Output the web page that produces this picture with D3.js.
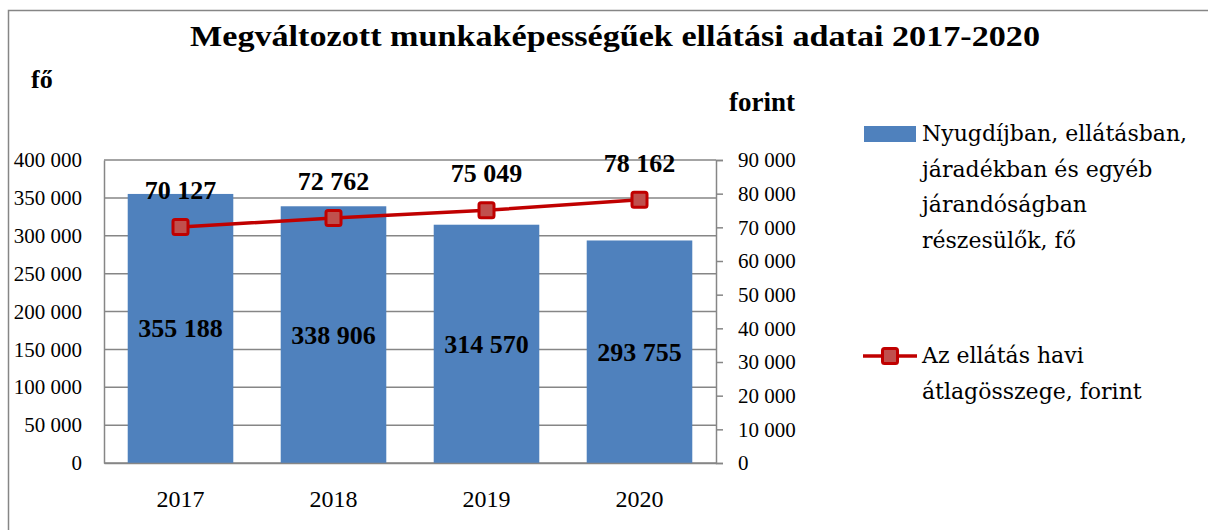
<!DOCTYPE html>
<html>
<head>
<meta charset="utf-8">
<script src="https://cdn.jsdelivr.net/npm/d3@7"></script>
<style>
  body { margin: 0; background: #ffffff; }
  svg { display: block; font-family: "Liberation Serif", "DejaVu Serif", serif; }
</style>
</head>
<body>
<svg id="chart"></svg>
<script>
// DATA
var years = ["2017", "2018", "2019", "2020"];
var recipients = [355188, 338906, 314570, 293755];   // fő (bars, left axis)
var monthlyAverage = [70127, 72762, 75049, 78162];   // forint (line, right axis)
var leftTicks = [0, 50000, 100000, 150000, 200000, 250000, 300000, 350000, 400000];
var rightTicks = [0, 10000, 20000, 30000, 40000, 50000, 60000, 70000, 80000, 90000];
var titleText = "Megváltozott munkaképességűek ellátási adatai 2017-2020";
var barLegend = ["Nyugdíjban, ellátásban,", "járadékban és egyéb", "járandóságban", "részesülők, fő"];
var lineLegend = ["Az ellátás havi", "átlagösszege, forint"];

// NEEDED VARIABLES
var width = 1208;
var height = 530;
var plot = {left: 104, right: 716, top: 160, bottom: 463};
var barColor = "#4F81BD";
var lineColor = "#C00000";
var markerFill = "#C0504D";
var gridColor = "#868686";
var serif = "'Liberation Serif', 'DejaVu Serif', serif";
var wideSerif = "'DejaVu Serif', 'Liberation Serif', serif";

var huLocale = d3.formatLocale({decimal: ",", thousands: " ", grouping: [3], currency: ["", ""]});
var numFormat = huLocale.format(",");

var svg = d3.select("#chart")
  .attr("width", width)
  .attr("height", height)
  ;

// outer chart border
svg.append("rect")
  .attr("x", 8.5)
  .attr("y", 10.5)
  .attr("width", 1300)
  .attr("height", 700)
  .attr("fill", "none")
  .attr("stroke", gridColor)
  .attr("stroke-width", 1.5)
  ;

// SCALES
var xScale = d3.scaleBand()
  .domain(years)
  .range([plot.left, plot.right])
  .paddingInner(0.31)
  .paddingOuter(0.155)
  ;

var yLeft = d3.scaleLinear()
  .domain([0, 400000])
  .range([plot.bottom, plot.top])
  ;

var yRight = d3.scaleLinear()
  .domain([0, 90000])
  .range([plot.bottom, plot.top])
  ;

// GRIDLINES
svg.append("g")
  .attr("class", "grid")
  .selectAll("line")
  .data(leftTicks)
  .join("line")
  .attr("x1", plot.left)
  .attr("x2", plot.right)
  .attr("y1", (d) => yLeft(d))
  .attr("y2", (d) => yLeft(d))
  .attr("stroke", gridColor)
  .attr("stroke-width", 1.5)
  ;

// BARS
svg.append("g")
  .attr("id", "bars")
  .selectAll("rect")
  .data(recipients)
  .join("rect")
  .attr("x", (d, i) => xScale(years[i]))
  .attr("y", (d) => yLeft(d))
  .attr("width", xScale.bandwidth())
  .attr("height", (d) => plot.bottom - yLeft(d))
  .attr("fill", barColor)
  ;

// AXES
var leftAxis = d3.axisLeft(yLeft)
  .tickValues(leftTicks)
  .tickSize(0)
  .tickPadding(22)
  .tickFormat(numFormat)
  ;

var rightAxis = d3.axisRight(yRight)
  .tickValues(rightTicks)
  .tickSize(7)
  .tickPadding(15)
  .tickFormat(numFormat)
  ;

var bottomAxis = d3.axisBottom(xScale)
  .tickSize(0)
  .tickPadding(27)
  ;

svg.append("g")
  .attr("transform", "translate(" + plot.left + ",0)")
  .call(leftAxis)
  ;

svg.append("g")
  .attr("transform", "translate(" + plot.right + ",0)")
  .call(rightAxis)
  ;

var xAxisChart = svg.append("g")
  .attr("transform", "translate(0," + plot.bottom + ")")
  .call(bottomAxis)
  ;

svg.selectAll(".domain")
  .attr("stroke", gridColor)
  .attr("stroke-width", 1.5)
  ;
svg.selectAll(".tick line")
  .attr("stroke", gridColor)
  .attr("stroke-width", 1.5)
  ;
svg.selectAll(".tick text")
  .attr("fill", "#000")
  .attr("font-family", serif)
  .attr("font-size", 21)
  ;
// year labels are a bit larger in the original
xAxisChart.selectAll(".tick text")
  .attr("font-size", 24)
  ;

// BAR LABELS
svg.append("g")
  .selectAll("text")
  .data(recipients)
  .join("text")
  .attr("x", (d, i) => xScale(years[i]) + xScale.bandwidth() / 2)
  .attr("y", (d) => (yLeft(d) + plot.bottom) / 2 + 9)
  .attr("text-anchor", "middle")
  .attr("font-weight", "bold")
  .attr("font-size", 26)
  .text((d) => numFormat(d))
  ;

// LINE
var line = d3.line()
  .x((d, i) => xScale(years[i]) + xScale.bandwidth() / 2)
  .y((d) => yRight(d))
  ;

svg.append("path")
  .datum(monthlyAverage)
  .attr("d", line)
  .attr("fill", "none")
  .attr("stroke", lineColor)
  .attr("stroke-width", 3.5)
  ;

svg.append("g")
  .selectAll("rect")
  .data(monthlyAverage)
  .join("rect")
  .attr("x", (d, i) => xScale(years[i]) + xScale.bandwidth() / 2 - 7.5)
  .attr("y", (d) => yRight(d) - 7.5)
  .attr("width", 15)
  .attr("height", 15)
  .attr("rx", 2)
  .attr("fill", markerFill)
  .attr("stroke", lineColor)
  .attr("stroke-width", 3)
  ;

svg.append("g")
  .selectAll("text")
  .data(monthlyAverage)
  .join("text")
  .attr("x", (d, i) => xScale(years[i]) + xScale.bandwidth() / 2)
  .attr("y", (d) => yRight(d) - 28)
  .attr("text-anchor", "middle")
  .attr("font-weight", "bold")
  .attr("font-size", 26)
  .text((d) => numFormat(d))
  ;

// TITLES
var title = svg.append("text")
  .attr("x", 615)
  .attr("y", 46)
  .attr("text-anchor", "middle")
  .attr("font-weight", "bold")
  .attr("font-size", 29)
  .text(titleText)
  ;
// stretch Times-like glyphs to the wider original face
if (Math.abs(title.node().getComputedTextLength() - 850) > 10) {
  title.attr("textLength", 850).attr("lengthAdjust", "spacingAndGlyphs");
}

svg.append("text")
  .attr("x", 31)
  .attr("y", 88)
  .attr("font-weight", "bold")
  .attr("font-size", 26)
  .text("fő")
  ;

svg.append("text")
  .attr("x", 729)
  .attr("y", 111)
  .attr("font-weight", "bold")
  .attr("font-size", 27)
  .text("forint")
  ;

// LEGEND
var legend = svg.append("g")
  .attr("id", "legend")
  .attr("font-family", wideSerif)
  .attr("font-size", 22)
  ;

legend.append("rect")
  .attr("x", 864)
  .attr("y", 126)
  .attr("width", 52)
  .attr("height", 16)
  .attr("fill", barColor)
  ;

legend.append("g")
  .selectAll("text")
  .data(barLegend)
  .join("text")
  .attr("x", 922)
  .attr("y", (d, i) => 141 + i * 35.5)
  .text((d) => d)
  ;

legend.append("line")
  .attr("x1", 863)
  .attr("x2", 917)
  .attr("y1", 356)
  .attr("y2", 356)
  .attr("stroke", lineColor)
  .attr("stroke-width", 3.5)
  ;

legend.append("rect")
  .attr("x", 890 - 7.5)
  .attr("y", 356 - 7.5)
  .attr("width", 15)
  .attr("height", 15)
  .attr("rx", 2)
  .attr("fill", markerFill)
  .attr("stroke", lineColor)
  .attr("stroke-width", 3)
  ;

legend.append("g")
  .selectAll("text")
  .data(lineLegend)
  .join("text")
  .attr("x", 922)
  .attr("y", (d, i) => 363 + i * 35.5)
  .text((d) => d)
  ;
</script>
</body>
</html>
